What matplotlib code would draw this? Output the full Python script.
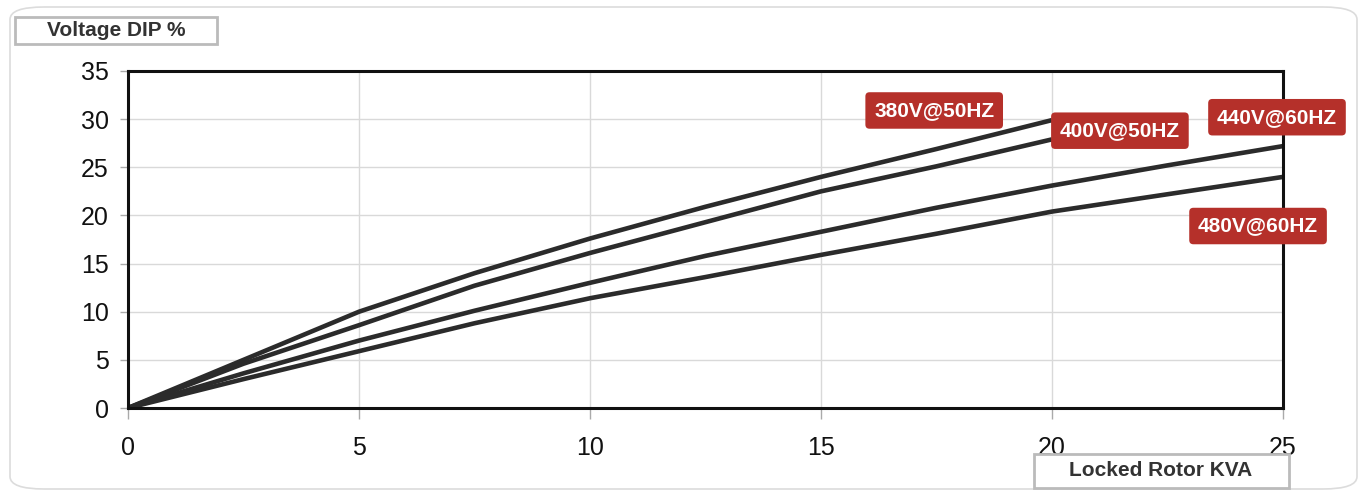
import matplotlib
matplotlib.use("Agg")
import matplotlib.pyplot as plt
from matplotlib.patches import FancyBboxPatch

plt.rcParams['font.family'] = ['Liberation Sans', 'DejaVu Sans']

# values (every 2.5 kVA)
kva_50 = [0, 2.5, 5, 7.5, 10, 12.5, 15, 17.5, 20]
dip_380 = [0, 5.0, 10.0, 14.0, 17.6, 20.9, 24.0, 26.9, 29.9]
dip_400 = [0, 4.6, 8.6, 12.7, 16.1, 19.3, 22.5, 25.1, 27.9]
kva_60 = [0, 2.5, 5, 7.5, 10, 12.5, 15, 17.5, 20, 22.5, 25]
dip_440 = [0, 3.6, 7.0, 10.1, 13.0, 15.8, 18.3, 20.8, 23.1, 25.2, 27.2]
dip_480 = [0, 3.0, 5.9, 8.8, 11.4, 13.6, 15.9, 18.1, 20.4, 22.2, 24.0]

labels = ['380V@50HZ', '400V@50HZ', '440V@60HZ', '480V@60HZ']
label_pos = [(17.45, 30.9), (21.47, 28.8), (24.87, 30.2), (24.46, 18.9)]

x_ticks = [0, 5, 10, 15, 20, 25]
y_ticks = [0, 5, 10, 15, 20, 25, 30, 35]

fig = plt.figure(figsize=(13.67, 4.97), dpi=100)
ax = fig.add_axes([128 / 1367, 1 - 408 / 497, 1155 / 1367, 337 / 497])

# outer rounded frame
frame = FancyBboxPatch((10 / 1367, 8 / 497), 1347 / 1367, 482 / 497,
                       boxstyle="round,pad=0,rounding_size=0.025",
                       transform=fig.transFigure, fill=False,
                       edgecolor='#dcdcdc', linewidth=1.2)
fig.patches.append(frame)

line_color = '#2b2b2b'
for xs, ys in [(kva_50, dip_380), (kva_50, dip_400), (kva_60, dip_440), (kva_60, dip_480)]:
    ax.plot(xs, ys, color=line_color, lw=3.3, solid_capstyle='butt',
            solid_joinstyle='round')

for lab, (x, y) in zip(labels, label_pos):
    ax.text(x, y, lab, ha='center', va='center', color='white',
            fontsize=15, fontweight='bold', clip_on=False, zorder=5,
            bbox=dict(boxstyle='round,pad=0.42,rounding_size=0.2',
                      facecolor='#b5302a', edgecolor='none'))

ax.set_xlim(0, 25)
ax.set_ylim(0, 35)
ax.set_xticks(x_ticks)
ax.set_yticks(y_ticks)
ax.grid(True, color='#d9d9d9', linewidth=1)
ax.set_axisbelow(True)
for s in ax.spines.values():
    s.set_linewidth(2.2)
    s.set_color('#111111')
ax.tick_params(axis='both', labelsize=18, colors='#aaaaaa', labelcolor='#111111')
ax.tick_params(axis='y', length=6, width=1, pad=8)
ax.tick_params(axis='x', length=8, width=1, pad=12)

# axis title boxes
fig.text(116 / 1367, 1 - 31 / 497, 'Voltage DIP %', ha='center', va='center',
         fontsize=15, fontweight='bold', color='#333333')
fig.patches.append(FancyBboxPatch((15 / 1367, 1 - 44 / 497), 202 / 1367, 27 / 497,
                                  boxstyle='square,pad=0', transform=fig.transFigure,
                                  fill=False, edgecolor='#bbbbbb', linewidth=2))
fig.text(1161 / 1367, 1 - 470 / 497, 'Locked Rotor KVA', ha='center', va='center',
         fontsize=15, fontweight='bold', color='#333333')
fig.patches.append(FancyBboxPatch((1034 / 1367, 1 - 488 / 497), 255 / 1367, 34 / 497,
                                  boxstyle='square,pad=0', transform=fig.transFigure,
                                  fill=False, edgecolor='#bbbbbb', linewidth=2))

fig.savefig('out.png', dpi=100, facecolor='white')
